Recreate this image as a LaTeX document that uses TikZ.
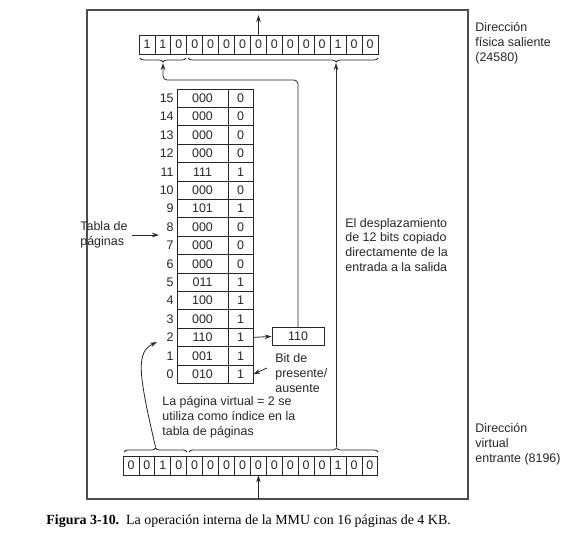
\documentclass[tikz,border=0pt]{standalone}
\usepackage{fontspec}
\setmainfont{Liberation Serif}
\setsansfont{Liberation Sans}
\usepackage{tikz}
\usetikzlibrary{calc,arrows.meta,decorations.pathreplacing}
\tikzstyle{mmu}=[
  >={Stealth[length=7bp,width=4.5bp]}, x=1bp, y=-1bp, line width=0.8bp,
  color=black!85, font=\sffamily\fontsize{12.5}{15}\selectfont
]
\tikzstyle{bitcell}=[
  draw, inner sep=0pt, minimum width=15.93bp, minimum height=19bp
]
\tikzstyle{framecell}=[
  draw, inner sep=0pt, minimum width=51bp, minimum height=18.4bp
]
\tikzstyle{presentcell}=[
  draw, inner sep=0pt, minimum width=25bp, minimum height=18.4bp
]
\tikzstyle{outcell}=[
  draw, inner sep=0pt, minimum width=52bp, minimum height=18bp
]
\tikzstyle{rownum}=[
  anchor=east, inner sep=0pt
]
\tikzstyle{note}=[
  align=left, anchor=west, inner sep=0pt
]
\tikzstyle{outerbox}=[
  line width=1.2bp, draw=black!70
]
\tikzstyle{brace}=[
  decorate, decoration={brace, amplitude=4bp}
]
\tikzstyle{link}=[
  ->
]

\begin{document}
\begin{tikzpicture}[mmu]
    \useasboundingbox (0,0) rectangle (579,539);
    \draw [outerbox] (87,10) rectangle (468,499);
    % registers
    \foreach \b [count=\i from 0] in {1,1,0,0,0,0,0,0,0,0,0,0,1,0,0}
      \node (o\i) at ({139+15.93*\i+7.97},44.5) [bitcell] {\b};
    \foreach \b [count=\i from 0] in {0,0,1,0,0,0,0,0,0,0,0,0,0,1,0,0}
      \node (v\i) at ({123+15.93*\i+7.97},465.5) [bitcell] {\b};
    % page table
    \foreach \r/\f/\p in {15/000/0,14/000/0,13/000/0,12/000/0,11/111/1,
        10/000/0,9/101/1,8/000/0,7/000/0,6/000/0,5/011/1,4/100/1,
        3/000/1,2/110/1,1/001/1,0/010/1} {
      \pgfmathsetmacro\ry{98.2+(15-\r)*18.4}
      \node (n\r) at (174,\ry) [rownum] {\r};
      \node (f\r) at (202.5,\ry) [framecell] {\f};
      \node (p\r) at (240.5,\ry) [presentcell] {\p};
    }
    \node (frameout) at (298,336.4) [outcell] {110};
    % labels
    \node (tabla) at (80,235) [note] {Tabla de\\páginas};
    \node (bitnote) at (275,373) [note] {Bit de\\presente/\\ausente};
    \node (idxnote) at (162,417) [note] {La página virtual = 2 se\\utiliza como índice en la\\tabla de páginas};
    \node (despnote) at (345,245) [note] {El desplazamiento\\de 12 bits copiado\\directamente de la\\entrada a la salida};
    \node (outlabel) at (475,43) [note] {Dirección\\física saliente\\(24580)};
    \node (inlabel) at (475,444) [note] {Dirección\\virtual\\entrante (8196)};
    \node (caption) at (46,521) [note, font=\rmfamily\fontsize{14}{16}\selectfont, color=black] {\textbf{Figura 3-10.}\enspace La operación interna de la MMU con 16 páginas de 4 KB.};
    % braces
    \draw [brace, decoration={mirror}] (140,58) -- (186,58);
    \draw [brace, decoration={mirror, aspect=0.78}] (188,58) -- (378,58);
    \draw [brace] (124,452) -- (187,452);
    \draw [brace, decoration={aspect=0.78}] (189,452) -- (378,452);
    \coordinate (ptip) at (163,63);
    \coordinate (otip) at (336,63);
    \coordinate (vtip) at (155.5,447);
    \coordinate (dtip) at (336,447);
    \coordinate (outtop) at (258.5,15);
    \coordinate (inbot) at (258.5,499);
    \coordinate (tablatip) at (159,235);
    \coordinate (idx) at (157,342);
    % connectors
    \draw [link] (o7.north) -- (outtop);
    \draw [link] (inbot) -- (v8.south);
    \draw [link] (dtip) -- (otip);
    \draw [link] (p2.east) -- (frameout.west);
    \draw [link, rounded corners=4bp] (frameout.north) |- ($(ptip)+(0,17)$) -- (ptip);
    \draw [link] ($(bitnote.west)+(-8,-5)$) -- (p0.east);
    \draw [link] ([xshift=4bp]tabla.east) -- (tablatip);
    \draw [link] (vtip) .. controls (138,372) and (136,352) .. (idx);
\end{tikzpicture}
\end{document}
